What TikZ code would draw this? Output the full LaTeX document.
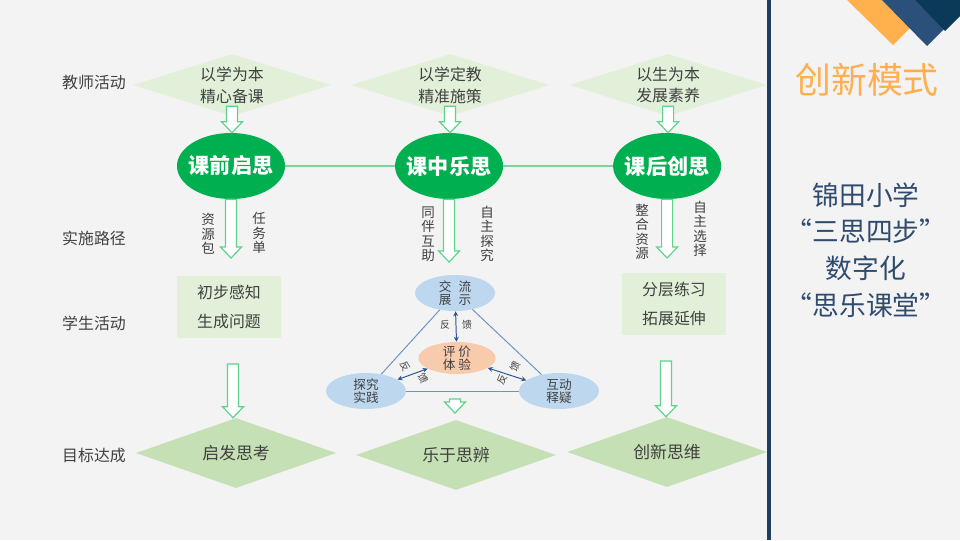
\documentclass[tikz,border=0pt]{standalone}
\usepackage{fontspec}
\setmainfont{Noto Sans CJK SC}
\usepackage{xcolor}
\usetikzlibrary{shapes.geometric,calc,arrows.meta,positioning}

\definecolor{paper}{HTML}{F3F3F3}
\definecolor{inkgray}{HTML}{404040}
\definecolor{leafpale}{HTML}{E2F0D9}
\definecolor{leafmid}{HTML}{C5E0B4}
\definecolor{leafdark}{HTML}{00B050}
\definecolor{arrowgreen}{HTML}{5FD38A}
\definecolor{linkgreen}{HTML}{7FD39A}
\definecolor{skyfill}{HTML}{BDD7EE}
\definecolor{peachfill}{HTML}{F8CBAD}
\definecolor{triline}{HTML}{6F93C0}
\definecolor{loopblue}{HTML}{2F5597}
\definecolor{navyline}{HTML}{1F3F5F}
\definecolor{titleorange}{HTML}{FFAF50}
\definecolor{decoorange}{HTML}{FFB14E}
\definecolor{deconavy}{HTML}{2B5079}
\definecolor{decodark}{HTML}{0B3958}
\definecolor{paneltext}{HTML}{2F4B6E}

% hollow down arrow: from #1 straight down to the height of #2
\newcommand{\hollowdrop}[2]{%
  \draw[hollow] ($(#1)+(-5.5,0)$) -- ($(#1)+(5.5,0)$) -- ($(#1 |- #2)+(5.5,-11)$)
    -- ($(#1 |- #2)+(10.5,-11)$) -- (#1 |- #2) -- ($(#1 |- #2)+(-10.5,-11)$)
    -- ($(#1 |- #2)+(-5.5,-11)$) -- cycle;}

\begin{document}
\begin{tikzpicture}[%
        x=0.025cm, y=-0.025cm,
        node distance=5.45cm,
        every node/.style={text=inkgray},
        rowlabel/.style={font=\fontsize{11.3}{14}\selectfont},
        teach/.style={diamond, aspect=3.2, fill=leafpale, inner sep=0pt, minimum width=4.95cm, minimum height=1.55cm, align=center, font=\fontsize{11.3}{15.6}\selectfont},
        goal/.style={diamond, aspect=2.9, fill=leafmid, inner sep=0pt, minimum width=5cm, minimum height=1.75cm, font=\fontsize{12}{14}\selectfont},
        stage/.style={ellipse, fill=leafdark, inner sep=0pt, inner xsep=-8pt, minimum width=2.7cm, minimum height=1.65cm, text=white, font=\bfseries\fontsize{15}{18}\selectfont},
        task/.style={rectangle, fill=leafpale, minimum width=2.62cm, minimum height=1.57cm, align=left, font=\fontsize{11.3}{20.5}\selectfont},
        sidetext/.style={align=center, inner sep=0pt, font=\fontsize{9.6}{10.3}\selectfont},
        ring/.style={ellipse, fill=skyfill, inner sep=0pt, inner ysep=-2pt, minimum width=2cm, minimum height=0.9cm, align=center, font=\fontsize{9}{9.5}\selectfont},
        core/.style={ellipse, fill=peachfill, inner sep=0pt, inner ysep=-2pt, minimum width=1.93cm, minimum height=0.8cm, align=center, font=\fontsize{9}{9.5}\selectfont},
        fbtext/.style={inner sep=0pt, font=\fontsize{7}{8}\selectfont},
        hollow/.style={draw=arrowgreen, fill=white, line width=0.85pt, line join=miter},
        link/.style={draw=linkgreen, line width=1pt},
        tri/.style={draw=triline, line width=0.7pt},
        fb/.style={draw=loopblue, line width=0.7pt, {Stealth[length=3.5pt,width=3.5pt]}-{Stealth[length=3.5pt,width=3.5pt]}}]

        % Background
        \fill[paper] (0,0) rectangle (960,540);
        \useasboundingbox (0,0) rectangle (960,540);
        \draw[navyline, line width=2.2pt] (769,0) -- (769,540);
        \fill[decoorange] (847,0) -- (882,0) -- (910,28) -- (893,45) -- cycle;
        \fill[deconavy] (882,0) -- (915,0) -- (944,29) -- (927,46) -- cycle;
        \fill[decodark] (915,0) -- (960,0) -- (960,16) -- (945,31) -- cycle;

        % Row labels
        \node [rowlabel] (r1) at (94,82) {教师活动};
        \node [rowlabel] (r2) at (94,238) {实施路径};
        \node [rowlabel] (r3) at (94,323) {学生活动};
        \node [rowlabel] (r4) at (94,456) {目标达成};

        % Nodes
        \node [teach] (t1) at (232,85) {以学为本\\精心备课};
        \node [teach, right of=t1] (t2) {以学定教\\精准施策};
        \node [teach, right of=t2] (t3) {以生为本\\发展素养};

        \node [stage] (e1) at (231,166) {课前启思};
        \node [stage, right of=e1] (e2) {课中乐思};
        \node [stage, right of=e2] (e3) {课后创思};

        \node [task] (s1) at (229,307) {初步感知\\生成问题};
        \node [task] (s3) at (674,304) {分层练习\\拓展延伸};

        \node [goal] (g1) at (236,453) {启发思考};
        \node [goal] (g2) at (456,455) {乐于思辨};
        \node [goal] (g3) at (667,452) {创新思维};

        % Side texts
        \node [sidetext] (p1) at (208,234) {资\\源\\包};
        \node [sidetext] (p2) at (259,233) {任\\务\\单};
        \node [sidetext] (p3) at (428,234) {同\\伴\\互\\助};
        \node [sidetext] (p4) at (487,234) {自\\主\\探\\究};
        \node [sidetext] (p5) at (642,232) {整\\合\\资\\源};
        \node [sidetext] (p6) at (700,229) {自\\主\\选\\择};

        % Cycle
        \node [ring] (jl) at (455,293) {交\hspace{5pt}流\\展\hspace{5pt}示};
        \node [core] (pj) at (457,358) {评\hspace{2pt}价\\体\hspace{2pt}验};
        \node [ring] (tj) at (366,391) {探究\\实践};
        \node [ring] (hd) at (559,391) {互动\\释疑};

        \node [fbtext] (f1) at (445,325) {反};
        \node [fbtext] (f2) at (467,325) {馈};
        \node [fbtext, rotate=-65] (f3) at (405,366) {反};
        \node [fbtext, rotate=-65] (f4) at (423,378) {馈};
        \node [fbtext, rotate=62] (f5) at (515,366) {馈};
        \node [fbtext, rotate=62] (f6) at (502,379) {反};

        % Right panel
        \node [text=titleorange, font=\fontsize{25.5}{30}\selectfont] (mode) at (867,80) {创新模式};
        \node [text=paneltext, align=center, font=\fontsize{19}{26.2}\selectfont] (school) at (866,250) {锦田小学\\“三思四步”\\数字化\\“思乐课堂”};

        % Edges
        \draw[link] (e1) -- (e2);
        \draw[link] (e2) -- (e3);

        \coordinate (a1) at ($(t1.south)+(0,-10)$);
        \coordinate (a2) at ($(t2.south)+(0,-10)$);
        \coordinate (a3) at ($(t3.south)+(0,-10)$);
        \hollowdrop{a1}{e1.north}
        \hollowdrop{a2}{e2.north}
        \hollowdrop{a3}{e3.north}

        \coordinate (b1) at (233,258);
        \coordinate (b2) at (456,262);
        \coordinate (b3) at (668,258);
        \hollowdrop{e1.south}{b1}
        \hollowdrop{e2.south}{b2}
        \hollowdrop{e3.south}{b3}

        \coordinate (d1) at (233,364);
        \coordinate (d3) at (666,361);
        \hollowdrop{d1}{g1.north}
        \hollowdrop{d3}{g3.north}
        \coordinate (m1) at (455,399);
        \coordinate (m2) at (455,413);
        \hollowdrop{m1}{m2}

        \draw[tri] (jl) -- (tj);
        \draw[tri] (jl) -- (hd);
        \draw[tri] (tj) -- (hd);
        \draw[fb] (jl) -- (pj);
        \draw[fb] (pj) -- (tj);
        \draw[fb] (pj) -- (hd);
    \end{tikzpicture}
\end{document}
